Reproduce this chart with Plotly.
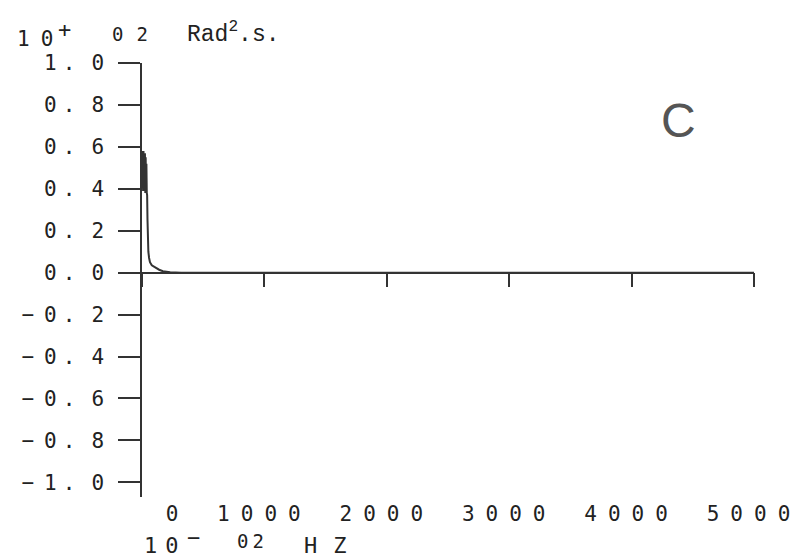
import plotly.graph_objects as go

# 데이터 ==========================================================================
# 주파수 (10^-2 Hz) / 스펙트럼 값 (10^+2 Rad^2.s)
freq = [0, 3, 6, 9, 12, 15, 18, 21, 24, 27, 30, 33, 36, 39, 42,
        45, 48, 52, 58, 65, 80, 106, 140, 171, 230, 320,
        1000, 2000, 3000, 4000, 5000]
psd = [0.58, 0.40, 0.57, 0.39, 0.58, 0.40, 0.56, 0.39, 0.57, 0.38, 0.55, 0.39, 0.52, 0.38, 0.37,
       0.25, 0.15, 0.10, 0.07, 0.05, 0.035, 0.025, 0.014, 0.007, 0.002, 0.0,
       0.0, 0.0, 0.0, 0.0, 0.0]

x_ticks = [0, 1000, 2000, 3000, 4000, 5000]
x_ticklabels = ["\u00a0\u00a0\u00a00", "1000", "2000", "3000", "4000", "5000"]
y_ticks = [-1.0, -0.8, -0.6, -0.4, -0.2, 0.0, 0.2, 0.4, 0.6, 0.8, 1.0]
y_ticklabels = ["−1.0", "−0.8", "−0.6", "−0.4", "−0.2", "0.0", "0.2", "0.4", "0.6", "0.8", "1.0"]

INK = "#222222"
AXIS = "#333333"
MONO = "DejaVu Sans Mono"

# 페이지 픽셀 기준 플롯 영역 (body 기본 여백 8px 보정) ===============================
OFF = 8
W, H = 804 - OFF, 560 - OFF
L, R, T, B = 142, 754, 63, 497


def px(x, y):
    """페이지 픽셀 좌표 -> paper 좌표"""
    return (x - L) / (R - L), (B - y) / (B - T)


def spaced(s, ls, last_plain=True):
    if last_plain:
        return f"<span style='letter-spacing:{ls}px'>{s[:-1]}</span>{s[-1]}"
    return f"<span style='letter-spacing:{ls}px'>{s}</span>"


def plotter_num(s):
    """플로터 숫자 간격: 점 앞은 좁게, 점 뒤는 넓게"""
    out = []
    for i, ch in enumerate(s[:-1]):
        if ch == ".":
            ls = 16
        elif s[i + 1] == ".":
            ls = 6
        else:
            ls = 10
        out.append(f"<span style='letter-spacing:{ls}px'>{ch}</span>")
    return "".join(out) + s[-1]


fig = go.Figure()
fig.add_trace(go.Scatter(
    x=freq, y=psd, mode="lines", xaxis="x2", yaxis="y",
    line=dict(color="#333333", width=2), showlegend=False, hoverinfo="skip"
))
fig.add_trace(go.Scatter(
    x=[0], y=[0], mode="lines", xaxis="x", yaxis="y",
    showlegend=False, hoverinfo="skip"
))

y_lo = -1.07
zero_pos = (0 - y_lo) / (1.0 - y_lo)

fig.update_layout(
    width=W, height=H,
    margin=dict(l=L - OFF, r=804 - R, t=T - OFF, b=560 - B, autoexpand=False),
    paper_bgcolor="white", plot_bgcolor="white",
    showlegend=False,
    xaxis=dict(
        range=[0, 5000], showline=False, showgrid=False, zeroline=False,
        tickvals=x_ticks, ticktext=[spaced(t, 11, last_plain=False) for t in x_ticklabels],
        ticks="", tickfont=dict(family=MONO, size=21, color=INK),
        ticklabelstandoff=2, automargin=False,
    ),
    xaxis2=dict(
        range=[0, 5000], overlaying="x", anchor="free", position=zero_pos, side="bottom",
        showline=True, linecolor=AXIS, linewidth=1.5, showgrid=False, zeroline=False,
        tickvals=x_ticks, ticks="outside", ticklen=14, tickwidth=1.5, tickcolor=AXIS,
        showticklabels=False, automargin=False,
    ),
    yaxis=dict(
        range=[y_lo, 1.0], showline=True, linecolor=AXIS, linewidth=1.5,
        showgrid=False, zeroline=False,
        tickvals=y_ticks, ticktext=[plotter_num(t) for t in y_ticklabels],
        ticks="outside", ticklen=22, tickwidth=1.5, tickcolor=AXIS,
        tickfont=dict(family=MONO, size=21, color=INK),
        ticklabelstandoff=10, automargin=False,
    ),
)

annotations = []


def add_text(x, y, text, size, family=MONO, color=INK, xanchor="left"):
    ax, ay = px(x, y)
    annotations.append(dict(
        x=ax, y=ay, xref="paper", yref="paper", text=text, showarrow=False,
        xanchor=xanchor, yanchor="middle", font=dict(family=family, size=size, color=color)
    ))


# 위쪽 단위 표시
add_text(15, 39, spaced("10", 11), 21)
add_text(64, 30, "+", 22, xanchor="center")
add_text(110, 34, spaced("02", 13), 19)
add_text(185, 33, "Rad<sup>2</sup>.s.", 23, family="Liberation Mono")

# 아래쪽 단위 표시
add_text(142, 545, spaced("10", 8), 22)
add_text(193, 537, "−", 22, xanchor="center")
add_text(235, 541, spaced("02", 4), 19)
add_text(302, 545, spaced("HZ", 16), 22)

# 패널 라벨
add_text(678, 120, "C", 48, family="Liberation Sans", color="#555555", xanchor="center")

fig.update_layout(annotations=annotations)

fig.write_html("out.html")
